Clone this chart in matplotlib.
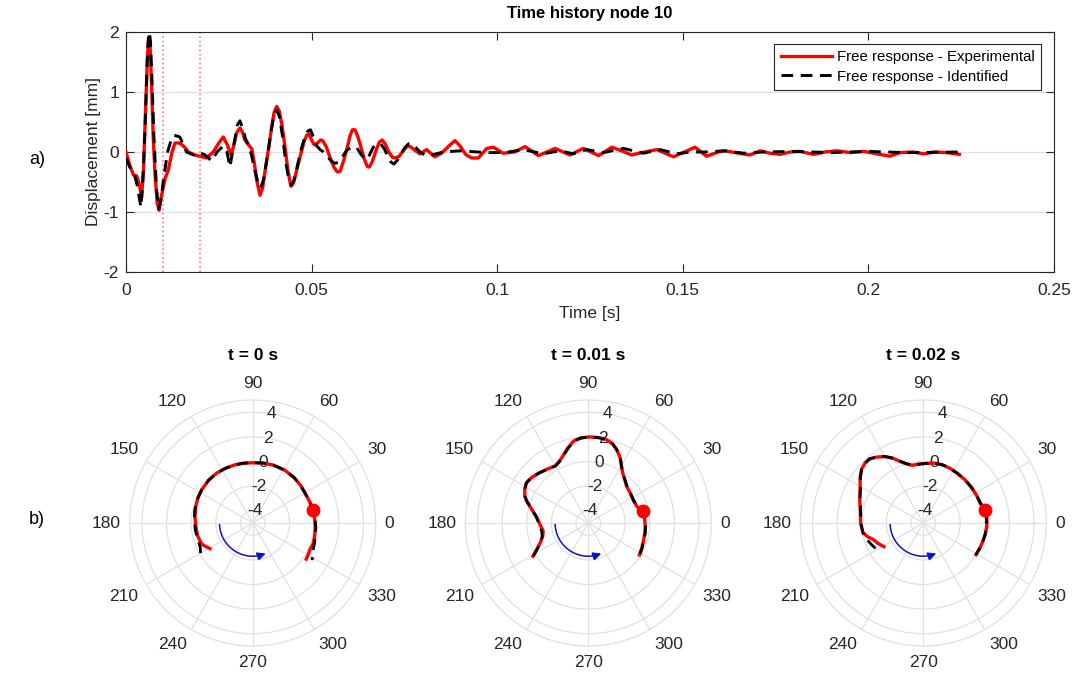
import numpy as np
import matplotlib
matplotlib.use("Agg")
import matplotlib.pyplot as plt

plt.rcParams['font.family'] = ['Liberation Sans', 'DejaVu Sans']

# ---------------- data: time history (node 10) ----------------
t_exp = [0.0000, 0.0010, 0.0020, 0.0029, 0.0036, 0.0042, 0.0047, 0.0052, 0.0057, 0.0060,
         0.0062, 0.0065, 0.0069, 0.0073, 0.0078, 0.0084, 0.0089, 0.0095, 0.0105, 0.0114,
         0.0124, 0.0132, 0.0145, 0.0158, 0.0168, 0.0186, 0.0205, 0.0217, 0.0235, 0.0250,
         0.0262, 0.0273, 0.0283, 0.0290, 0.0298, 0.0307, 0.0314, 0.0320, 0.0330, 0.0339,
         0.0346, 0.0353, 0.0361, 0.0368, 0.0375, 0.0384, 0.0392, 0.0399, 0.0406, 0.0413,
         0.0420, 0.0428, 0.0436, 0.0444, 0.0451, 0.0460, 0.0469, 0.0480, 0.0487, 0.0493,
         0.0500, 0.0507, 0.0516, 0.0524, 0.0530, 0.0540, 0.0549, 0.0560, 0.0569, 0.0577,
         0.0586, 0.0595, 0.0604, 0.0610, 0.0617, 0.0625, 0.0633, 0.0642, 0.0650, 0.0656,
         0.0664, 0.0672, 0.0682, 0.0690, 0.0698, 0.0708, 0.0718, 0.0726, 0.0736, 0.0748,
         0.0758, 0.0766, 0.0778, 0.0792, 0.0810, 0.0832, 0.0850, 0.0870, 0.0886, 0.0900,
         0.0915, 0.0931, 0.0949, 0.0972, 0.0990, 0.1016, 0.1047, 0.1075, 0.1111, 0.1156,
         0.1196, 0.1232, 0.1273, 0.1309, 0.1335, 0.1362, 0.1389, 0.1430, 0.1475, 0.1511,
         0.1533, 0.1564, 0.1596, 0.1614, 0.1641, 0.1681, 0.1708, 0.1735, 0.1762, 0.1789,
         0.1816, 0.1852, 0.1883, 0.1915, 0.1951, 0.1987, 0.2014, 0.2058, 0.2085, 0.2121,
         0.2148, 0.2180, 0.2211, 0.2245]
d_exp = [0.00, -0.22, -0.38, -0.40, -0.55, -0.75, -0.30, 0.55, 1.45, 1.82,
         1.92, 1.75, 1.10, 0.30, -0.35, -0.85, -0.97, -0.75, -0.45, -0.30,
         0.00, 0.15, 0.15, 0.08, 0.00, -0.05, -0.08, -0.10, 0.00, 0.15,
         0.25, 0.12, -0.05, 0.10, 0.32, 0.40, 0.33, 0.20, 0.12, 0.05,
         -0.20, -0.50, -0.72, -0.60, -0.30, 0.05, 0.40, 0.66, 0.76, 0.68,
         0.45, 0.10, -0.30, -0.57, -0.52, -0.30, -0.08, 0.18, 0.28, 0.30,
         0.20, 0.12, 0.15, 0.20, 0.19, 0.08, -0.08, -0.25, -0.33, -0.32,
         -0.15, 0.05, 0.28, 0.37, 0.37, 0.25, 0.08, -0.12, -0.24, -0.25,
         -0.15, 0.00, 0.16, 0.20, 0.14, 0.00, -0.09, -0.10, -0.07, 0.03,
         0.10, 0.09, 0.03, -0.03, 0.04, -0.08, -0.02, 0.10, 0.19, 0.10,
         -0.04, -0.10, -0.10, 0.06, 0.08, -0.02, 0.00, 0.09, -0.06, 0.06,
         -0.05, 0.06, -0.06, 0.08, 0.02, -0.05, -0.01, 0.04, -0.08, 0.02,
         0.08, -0.07, 0.00, 0.02, -0.01, -0.05, 0.02, -0.02, -0.04, 0.00,
         0.01, -0.04, 0.00, 0.02, -0.01, 0.01, -0.02, -0.07, -0.01, 0.00,
         -0.03, 0.00, -0.01, -0.04]

t_id = [0.0000, 0.0010, 0.0020, 0.0030, 0.0040, 0.0045, 0.0051, 0.0057, 0.0060, 0.0063,
        0.0066, 0.0070, 0.0075, 0.0082, 0.0088, 0.0094, 0.0100, 0.0112, 0.0124, 0.0130,
        0.0145, 0.0163, 0.0182, 0.0195, 0.0213, 0.0231, 0.0245, 0.0262, 0.0272, 0.0280,
        0.0290, 0.0300, 0.0307, 0.0314, 0.0322, 0.0330, 0.0338, 0.0346, 0.0355, 0.0363,
        0.0371, 0.0380, 0.0390, 0.0398, 0.0406, 0.0413, 0.0422, 0.0430, 0.0438, 0.0446,
        0.0454, 0.0462, 0.0472, 0.0482, 0.0490, 0.0497, 0.0505, 0.0514, 0.0523, 0.0532,
        0.0543, 0.0553, 0.0563, 0.0572, 0.0583, 0.0595, 0.0608, 0.0621, 0.0634, 0.0647,
        0.0656, 0.0666, 0.0676, 0.0686, 0.0696, 0.0706, 0.0714, 0.0722, 0.0732, 0.0742,
        0.0752, 0.0762, 0.0770, 0.0780, 0.0792, 0.0810, 0.0855, 0.0900, 0.0972, 0.1020,
        0.1070, 0.1124, 0.1169, 0.1205, 0.1241, 0.1286, 0.1340, 0.1394, 0.1439, 0.1484,
        0.1520, 0.1560, 0.1610, 0.1664, 0.1718, 0.1800, 0.1900, 0.2000, 0.2100, 0.2245]
d_id = [-0.10, -0.25, -0.32, -0.55, -0.92, -0.55, 0.35, 1.50, 1.88, 2.00,
        1.85, 1.20, 0.30, -0.60, -0.95, -0.80, -0.50, 0.00, 0.25, 0.28,
        0.25, 0.00, -0.05, 0.00, -0.05, -0.15, 0.00, 0.10, 0.00, -0.25,
        0.10, 0.45, 0.52, 0.40, 0.22, 0.12, -0.05, -0.28, -0.50, -0.60,
        -0.45, -0.10, 0.30, 0.60, 0.70, 0.60, 0.25, -0.15, -0.45, -0.55,
        -0.45, -0.22, 0.05, 0.25, 0.35, 0.37, 0.25, 0.10, 0.04, 0.00,
        -0.08, -0.15, -0.19, -0.17, -0.08, 0.03, 0.08, 0.08, -0.05, -0.13,
        -0.05, 0.08, 0.13, 0.14, 0.05, -0.08, -0.17, -0.20, -0.13, -0.02,
        0.08, 0.14, 0.14, 0.08, 0.00, -0.07, 0.00, 0.02, -0.01, -0.01,
        0.04, -0.03, 0.02, -0.03, 0.04, -0.01, 0.06, -0.02, 0.04, -0.03,
        0.00, 0.00, 0.02, -0.02, 0.00, 0.01, -0.01, 0.01, -0.01, 0.00]

snapshot_times = [0.0, 0.01, 0.02]
snapshot_titles = ['t = 0 s', 't = 0.01 s', 't = 0.02 s']

# ---------------- data: deformed shapes (theta in deg, displacement) ----------------
th_exp_0 = [211, 206, 202, 193, 184, 174, 164, 155, 147, 136, 126, 117, 108, 99, 90, 80, 70,
            59, 48, 38, 29, 20, 12, 4, -4, -12, -19, -24, -29, -34]
r_exp_0 = [-0.95, -0.70, -0.50, -0.40, -0.37, -0.28, -0.18, -0.10, -0.05, 0.00, 0.00, -0.03,
           -0.05, -0.08, -0.10, -0.05, 0.00, 0.02, 0.00, -0.05, -0.10, -0.05, 0.00, 0.05,
           0.10, 0.15, 0.20, 0.13, 0.18, 0.25]
th_id_0 = [210, 205, 198, 188, 178, 168, 158, 147, 136, 126, 117, 108, 99, 90, 80, 70, 59, 48,
           38, 29, 20, 12, 4, -4, -12, -19, -25, -32]
r_id_0 = [-0.10, -0.30, -0.35, -0.30, -0.25, -0.18, -0.10, -0.05, 0.00, 0.00, -0.03, -0.05,
          -0.08, -0.10, -0.05, 0.00, 0.02, 0.00, -0.05, -0.10, -0.05, 0.00, 0.08, 0.15, 0.20,
          0.30, 0.40, 0.70]

th_exp_1 = [211, 207, 202, 196, 190, 181, 173, 168, 164, 160, 157, 152, 147, 141, 134, 127,
            120, 115, 111, 105, 100, 95, 89, 83, 78, 73, 69, 64, 60, 55, 49, 44, 35, 27, 19,
            15, 12, 6, -3, -10, -17, -25, -32]
r_exp_1 = [0.25, -0.30, -0.80, -1.15, -1.27, -1.05, -0.75, -0.40, -0.05, 0.35, 0.61, 0.85,
           1.00, 0.90, 0.68, 0.50, 0.37, 0.55, 0.81, 1.35, 1.78, 1.95, 2.00, 2.00, 1.95, 1.75,
           1.42, 0.90, 0.37, -0.10, -0.45, -0.67, -0.82, -0.90, -0.83, -0.65, -0.49, -0.40,
           -0.37, -0.33, -0.30, -0.20, -0.10]
th_id_1 = [211, 207, 202, 196, 190, 181, 173, 168, 164, 160, 157, 152, 147, 141, 134, 127,
           120, 115, 111, 105, 100, 95, 89, 83, 78, 73, 69, 64, 60, 55, 49, 44, 35, 27, 19,
           15, 12, 6, -3, -10, -17, -25, -32]
r_id_1 = [0.20, -0.35, -0.85, -1.10, -1.15, -1.00, -0.72, -0.38, -0.05, 0.35, 0.60, 0.85,
          1.00, 0.92, 0.70, 0.48, 0.35, 0.52, 0.80, 1.30, 1.75, 1.93, 2.00, 1.98, 1.93, 1.72,
          1.40, 0.92, 0.40, -0.10, -0.42, -0.65, -0.80, -0.88, -0.80, -0.62, -0.47, -0.38,
          -0.33, -0.30, -0.28, -0.18, -0.08]

th_exp_2 = [211, 205, 198, 194, 189, 180, 171, 160, 150, 144, 139, 134, 130, 125, 120, 115,
            111, 106, 101, 94, 87, 80, 72, 64, 56, 46, 36, 27, 19, 12, 4, -3, -10, -16, -24, -31]
r_exp_2 = [-1.27, -1.00, -0.70, -0.35, -0.03, 0.10, 0.18, 0.50, 0.93, 1.35, 1.66, 1.80,
           1.80, 1.55, 1.23, 0.80, 0.38, 0.00, -0.22, -0.20, -0.15, -0.05, -0.02, -0.05, -0.10,
           -0.12, -0.13, -0.12, -0.10, 0.14, 0.18, 0.17, 0.12, 0.08, 0.03, 0.00]
th_id_2 = [208, 203, 196, 189, 180, 171, 160, 150, 144, 139, 134, 130, 125, 120, 115, 111,
           106, 101, 94, 87, 80, 72, 64, 56, 46, 36, 27, 19, 12, 4, -3, -10, -16, -24, -31]
r_id_2 = [-0.60, -0.45, -0.20, -0.03, 0.08, 0.15, 0.48, 0.90, 1.32, 1.63, 1.78, 1.80, 1.57,
          1.25, 0.82, 0.40, 0.02, -0.20, -0.20, -0.14, -0.05, -0.02, -0.05, -0.10, -0.12,
          -0.13, -0.12, -0.08, 0.12, 0.16, 0.16, 0.12, 0.06, 0.02, 0.00]

node_theta = [12, 12, 11.6]
node_r = [0.00, -0.49, 0.14]

rotation_arrow_theta = [183, 293]
rotation_arrow_r = -2.3

shapes = [(th_exp_0, r_exp_0, th_id_0, r_id_0),
          (th_exp_1, r_exp_1, th_id_1, r_id_1),
          (th_exp_2, r_exp_2, th_id_2, r_id_2)]

# ---------------- figure ----------------
W, H = 1077, 677
fig = plt.figure(figsize=(W / 100, H / 100), dpi=100)
txt_col = '#262626'
grid_col = '#e0e0e0'
dash = (0, (4.0, 2.6))

ax = fig.add_axes([126 / W, 1 - 272 / H, (1054 - 126) / W, (272 - 32) / H])
for ts in snapshot_times:
    ax.axvline(ts, color='#ff7a7a', ls=':', lw=1.2, zorder=1)
ax.plot(t_exp, d_exp, color='red', lw=2.4, label='Free response - Experimental', zorder=3,
        solid_joinstyle='round')
ax.plot(t_id, d_id, color='black', lw=2.1, ls=dash, label='Free response - Identified', zorder=4)
ax.set_xlim(0, 0.25)
ax.set_ylim(-2, 2)
ax.set_xticks([0, 0.05, 0.1, 0.15, 0.2, 0.25])
ax.set_xticklabels(['0', '0.05', '0.1', '0.15', '0.2', '0.25'])
ax.set_yticks([-2, -1, 0, 1, 2])
ax.set_yticklabels(['-2', '-1', '0', '1', '2'])
ax.yaxis.grid(True, color=grid_col, lw=0.9, zorder=0)
ax.set_axisbelow(True)
ax.tick_params(direction='in', top=True, right=True, labelsize=12.5, colors=txt_col,
               length=6, width=0.8)
ax.tick_params(axis='x', pad=8)
ax.tick_params(axis='y', pad=5)
for sp in ax.spines.values():
    sp.set_color(txt_col)
    sp.set_linewidth(0.8)
ax.set_xlabel('Time [s]', fontsize=12.5, color=txt_col, labelpad=6)
ax.set_ylabel('Displacement [mm]', fontsize=12.5, color=txt_col, labelpad=2)
ax.set_title('Time history node 10', fontsize=12, fontweight='bold', color='black', pad=10)
leg = ax.legend(loc='upper right', bbox_to_anchor=(0.986, 0.952), fontsize=10.8,
                frameon=True, fancybox=False, edgecolor=txt_col, framealpha=1,
                handlelength=3.4, handletextpad=0.3, borderpad=0.45, labelspacing=0.35,
                borderaxespad=0.0)
leg.get_frame().set_linewidth(0.8)

fig.text(37 / W, 1 - 160 / H, 'a)', fontsize=13, color='black', ha='center', va='center')
fig.text(37 / W, 1 - 520 / H, 'b)', fontsize=13, color='black', ha='center', va='center')

centers = [252.7, 588.3, 923.3]
cy = 523.0
R = 123.0
for i, (the, re_, thi, ri) in enumerate(shapes):
    cx = centers[i]
    pax = fig.add_axes([(cx - R) / W, 1 - (cy + R) / H, 2 * R / W, 2 * R / H],
                       projection='polar')
    pax.set_ylim(-5, 5)
    pax.set_yticks([-4, -2, 0, 2, 4])
    pax.set_xticks(np.deg2rad(np.arange(0, 360, 30)))
    pax.set_xticklabels([])
    pax.set_yticklabels([])
    pax.grid(True, color=grid_col, lw=0.9)
    pax.spines['polar'].set_color(grid_col)
    pax.spines['polar'].set_linewidth(0.9)
    pax.tick_params(length=0)
    for ang in range(0, 360, 30):
        th = np.deg2rad(ang)
        c, s = np.cos(th), np.sin(th)
        ha = 'left' if c > 0.3 else ('right' if c < -0.3 else 'center')
        va = 'bottom' if s > 0.3 else ('top' if s < -0.3 else 'center')
        pax.annotate(str(ang), xy=(th, 5), xytext=(6.5 * c, 6.5 * s),
                     textcoords='offset points', ha=ha, va=va, fontsize=12.5,
                     color=txt_col, annotation_clip=False)
    for rv in [-4, -2, 0, 2, 4]:
        pax.text(np.deg2rad(80), rv, str(rv), ha='center', va='center', fontsize=12.5,
                 color=txt_col, zorder=2)
    pax.plot(np.deg2rad(the), re_, color='red', lw=2.4, zorder=3, solid_joinstyle='round')
    pax.plot(np.deg2rad(thi), ri, color='black', lw=2.0, ls=dash, zorder=4)
    pax.plot(np.deg2rad(node_theta[i]), node_r[i], 'o', color='red', ms=9, zorder=5)
    # rotation direction arrow
    arc_th = np.deg2rad(np.linspace(rotation_arrow_theta[0], rotation_arrow_theta[1] - 4, 40))
    pax.plot(arc_th, np.full_like(arc_th, rotation_arrow_r), color='#1010c8', lw=1.1, zorder=3)
    pax.annotate('', xy=(np.deg2rad(rotation_arrow_theta[1]), rotation_arrow_r),
                 xytext=(np.deg2rad(rotation_arrow_theta[1] - 8), rotation_arrow_r),
                 arrowprops=dict(arrowstyle='-|>', color='#1010c8', lw=1.1,
                                 mutation_scale=12, shrinkA=0, shrinkB=0))
    fig.text(cx / W, 1 - 355 / H, snapshot_titles[i], fontsize=12.5, fontweight='bold',
             ha='center', va='center', color='black')

fig.savefig('out.png', dpi=100)
